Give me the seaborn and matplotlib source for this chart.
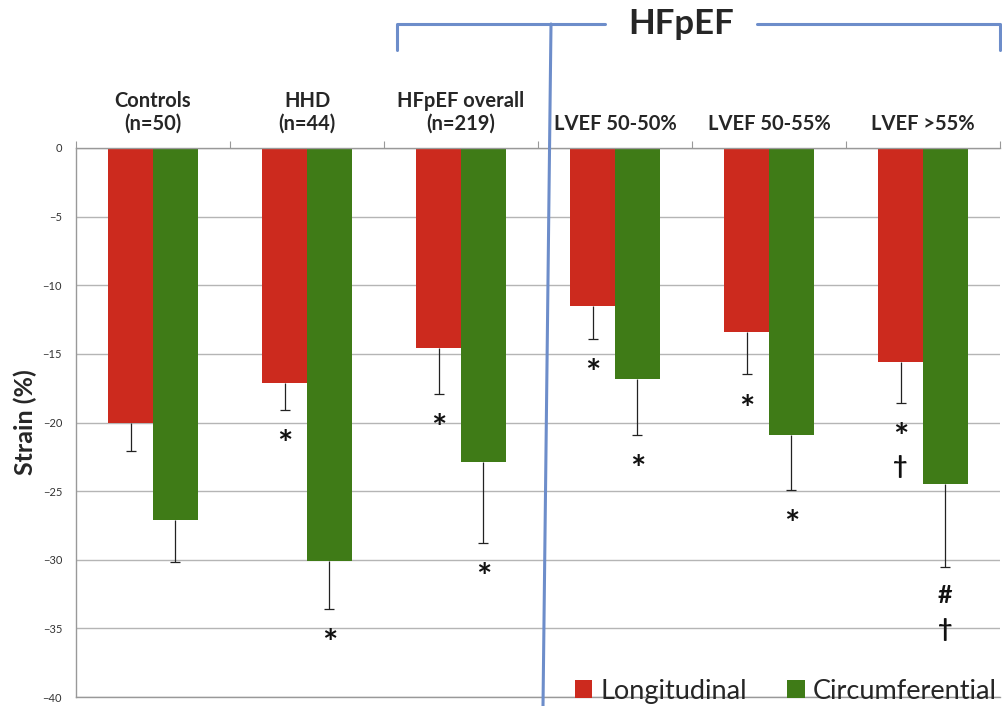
import numpy as np
import pandas as pd
import matplotlib
matplotlib.use("Agg")
import matplotlib.pyplot as plt
from matplotlib.lines import Line2D
from matplotlib.patches import Patch
import seaborn as sns

# Data
groups = ["Controls\n(n=50)", "HHD\n(n=44)", "HFpEF overall\n(n=219)",
          "LVEF 50-50%", "LVEF 50-55%", "LVEF >55%"]
longitudinal = [-20.0, -17.1, -14.6, -11.5, -13.4, -15.6]
longitudinal_sd = [2.1, 2.0, 3.3, 2.4, 3.1, 3.0]
circumferential = [-27.1, -30.1, -22.9, -16.8, -20.9, -24.5]
circumferential_sd = [3.1, 3.5, 5.9, 4.1, 4.0, 6.0]
long_marks = [[], ["*"], ["*"], ["*"], ["*"], ["*", "\u2020"]]
circ_marks = [[], ["*"], ["*"], ["*"], ["*"], ["#", "\u2020"]]
series = ["Longitudinal", "Circumferential"]
colors = ["#cc2a1e", "#3f7b17"]
bracket_color = "#6d8dca"

sns.set_style("white")
plt.rcParams["font.family"] = ["Lato", "DejaVu Sans"]

df = pd.DataFrame({
    "group": groups * 2,
    "strain": longitudinal + circumferential,
    "type": [series[0]] * len(groups) + [series[1]] * len(groups),
})

fig = plt.figure(figsize=(10.02, 7.06), dpi=100)
ax = fig.add_axes([76 / 1002, 1 - 697 / 706, 924 / 1002, 549 / 706])

sns.barplot(data=df, x="group", y="strain", hue="type", hue_order=series,
            palette=colors, width=0.58, saturation=1, errorbar=None,
            legend=False, edgecolor="none", ax=ax)

# one-sided (downward) error bars and significance marks
sds = [longitudinal_sd, circumferential_sd]
marks = [long_marks, circ_marks]
for cont, sd, mk in zip(ax.containers, sds, marks):
    xs = np.array([b.get_x() + b.get_width() / 2 for b in cont])
    ys = np.array([b.get_y() + b.get_height() for b in cont])
    lows = ys - np.array(sd)
    ax.vlines(xs, lows, ys, color="#222222", linewidth=0.9, zorder=3)
    ax.scatter(xs, lows, marker="_", s=45, color="#222222", linewidths=0.9, zorder=3)
    for x, lo, m in zip(xs, lows, mk):
        for k, sym in enumerate(m):
            if sym == "*":
                ax.text(x, lo - 2.6 - 2.5 * k, sym, ha="center", va="center",
                        fontsize=26, fontweight="bold", color="#111111")
            else:
                ax.text(x, lo - 2.1 - 2.5 * k, sym, ha="center", va="center",
                        fontsize=18, fontweight="bold", color="#111111")

ax.set_ylim(-40, 0)
ax.set_xlim(-0.5, 5.5)
ax.set_yticks(np.arange(-40, 1, 5))
ax.yaxis.grid(True, color="#b5b5b5", linewidth=1)
ax.set_axisbelow(True)

ax.xaxis.tick_top()
ax.set_xticks(np.arange(-0.5, 6, 1))
ax.set_xticklabels([])
ax.set_xticks(range(len(groups)), minor=True)
ax.set_xticklabels(groups, minor=True, fontsize=14.5, fontweight="bold")
ax.tick_params(axis="x", which="minor", length=0, pad=10)
ax.tick_params(axis="x", which="major", length=5, color="#999999", direction="out")
ax.tick_params(axis="y", length=6, color="#999999", labelsize=8, labelcolor="#333333", pad=4)
ax.set_xlabel("")
ax.set_ylabel("Strain (%)", fontsize=18, fontweight="bold", labelpad=4)

ax.spines["right"].set_visible(False)
for side in ["top", "left", "bottom"]:
    ax.spines[side].set_color("#999999")
    ax.spines[side].set_linewidth(1)

handles = [Patch(facecolor=c, edgecolor="none") for c in colors]
ax.legend(handles, series, loc="lower right", bbox_to_anchor=(0.997, -0.012),
          ncol=2, frameon=False, fontsize=19.5, handlelength=0.65, handleheight=0.65,
          handletextpad=0.3, columnspacing=1.5, borderpad=0.0, borderaxespad=0.0)

# HFpEF bracket
def px(x, y):
    return x / 1002, 1 - y / 706

lw = 2.2
for seg in [[(397, 50), (397, 24), (605, 24)],
            [(757, 24), (1000, 24), (1000, 50)],
            [(551, 24), (543, 706)]]:
    xs, ys = zip(*[px(*p) for p in seg])
    fig.add_artist(Line2D(xs, ys, color=bracket_color, linewidth=lw))
fig.text(*px(681, 24), "HFpEF", ha="center", va="center", fontsize=25, fontweight="bold")

fig.savefig("out.png", dpi=100)
